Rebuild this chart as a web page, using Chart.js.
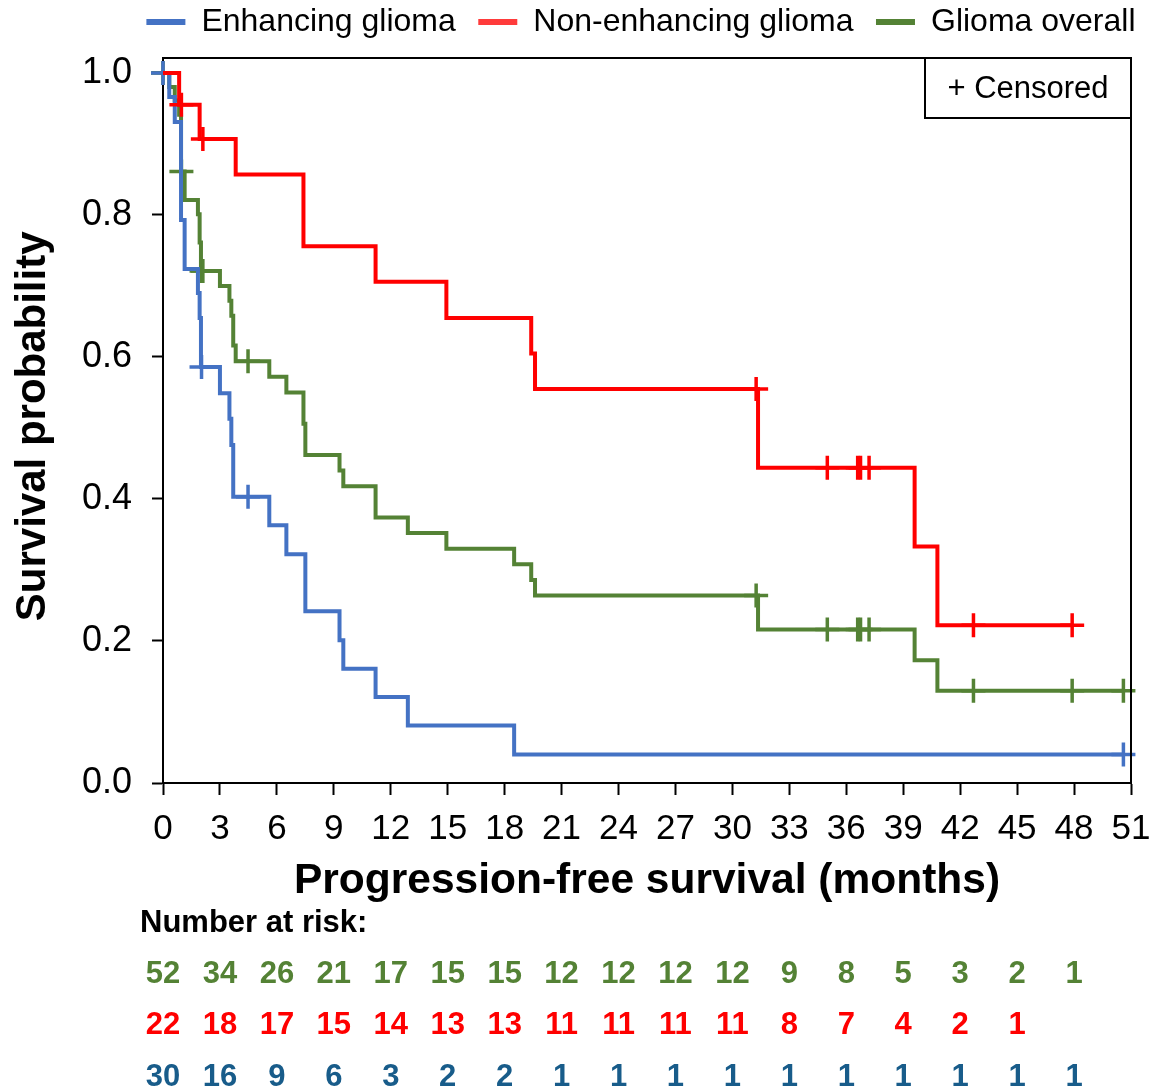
<!DOCTYPE html>
<html>
<head>
<meta charset="utf-8">
<title>Progression-free survival</title>
<script src="https://cdn.jsdelivr.net/npm/chart.js@4.4.1/dist/chart.umd.min.js"></script>
<style>
    body { margin: 0; background: #fff; }
    canvas { display: block; }
</style>
</head>
<body>
<canvas id="kmChart" width="1151" height="1087"></canvas>
<script>
/**
 * Kaplan-Meier curves: progression-free survival by glioma group
 */

// Enhancing glioma: event times (months) and survival after each step
const blueTimes = [0, 0.33, 0.62, 0.95, 1.14, 1.84, 1.93, 2.0, 3.0, 3.5, 3.6, 3.7, 5.6, 6.5, 7.5, 9.3, 9.5, 11.2, 12.9, 18.5, 50.6];
const blueSurv  = [1.0, 0.966, 0.931, 0.793, 0.724, 0.690, 0.655, 0.586, 0.549, 0.513, 0.476, 0.403, 0.363, 0.322, 0.242, 0.201, 0.161, 0.121, 0.081, 0.040, 0.040];
const blueCensored = [0, 2.03, 4.48, 50.6];

// Non-enhancing glioma
const redTimes = [0, 0.85, 1.93, 3.83, 7.4, 11.2, 14.93, 19.4, 19.6, 31.35, 39.6, 40.8, 47.9];
const redSurv  = [1.0, 0.955, 0.907, 0.857, 0.756, 0.706, 0.655, 0.605, 0.555, 0.444, 0.333, 0.222, 0.222];
const redCensored = [0.97, 2.1, 31.25, 35.0, 36.6, 36.75, 37.2, 42.7, 47.9];

// Glioma overall
const greenTimes = [0, 0.33, 0.62, 0.85, 0.95, 1.14, 1.84, 1.93, 2.0, 3.0, 3.5, 3.6, 3.7, 3.83, 5.6, 6.5, 7.4, 7.5, 9.3, 9.5, 11.2, 12.9, 14.93, 18.5, 19.4, 19.6, 31.35, 39.6, 40.8, 50.6];
const greenSurv  = [1.0, 0.980, 0.961, 0.941, 0.861, 0.821, 0.801, 0.761, 0.721, 0.700, 0.679, 0.658, 0.616, 0.594, 0.572, 0.550, 0.506, 0.462, 0.440, 0.418, 0.374, 0.352, 0.330, 0.308, 0.286, 0.264, 0.216, 0.173, 0.130, 0.130];
const greenCensored = [0, 0.97, 2.03, 2.1, 4.48, 31.25, 35.0, 36.6, 36.75, 37.2, 42.7, 47.9, 50.6];

// Number at risk table
const riskTimes = [0, 3, 6, 9, 12, 15, 18, 21, 24, 27, 30, 33, 36, 39, 42, 45, 48];
const riskGreen = [52, 34, 26, 21, 17, 15, 15, 12, 12, 12, 12, 9, 8, 5, 3, 2, 1];
const riskRed   = [22, 18, 17, 15, 14, 13, 13, 11, 11, 11, 11, 8, 7, 4, 2, 1, null];
const riskBlue  = [30, 16, 9, 6, 3, 2, 2, 1, 1, 1, 1, 1, 1, 1, 1, 1, 1];

const yTicks = [0, 0.2, 0.4, 0.6, 0.8, 1.0];

const FONT = "'Liberation Sans', Arial, sans-serif";
const COLORS = {
    blue: '#4472C4',
    red: '#FF0000',
    green: '#548235',
    legendRed: '#FF3B3B',
    riskBlue: '#185C8A'
};

/**
 * Survival value of a step curve at time t
 */
function survivalAt(times, surv, t) {
    let s = surv[0];
    for (let i = 0; i < times.length; i++) {
        if (times[i] <= t) s = surv[i];
    }
    return s;
}

function stepPoints(times, surv) {
    return times.map((t, i) => ({ x: t, y: surv[i] }));
}

function censorPoints(censored, times, surv) {
    return censored.map(t => ({ x: t, y: survivalAt(times, surv, t) }));
}

function curveDataset(label, times, surv, color, legendColor, order) {
    return {
        label: label,
        data: stepPoints(times, surv),
        borderColor: color,
        backgroundColor: legendColor,
        borderWidth: 4,
        stepped: 'before',
        pointRadius: 0,
        fill: false,
        clip: false,
        order: order
    };
}

function censorDataset(censored, times, surv, color, order) {
    return {
        label: 'censor',
        data: censorPoints(censored, times, surv),
        showLine: false,
        pointStyle: 'cross',
        pointRadius: 12,
        pointBorderWidth: 3.5,
        borderColor: color,
        backgroundColor: color,
        clip: false,
        order: order
    };
}

/**
 * Frame, "+ Censored" box and number-at-risk table
 */
const extrasPlugin = {
    id: 'kmExtras',
    afterDraw(chart) {
        const { ctx, chartArea, scales } = chart;
        ctx.save();

        // top and right frame lines
        ctx.strokeStyle = '#000';
        ctx.lineWidth = 2;
        ctx.beginPath();
        ctx.moveTo(chartArea.left, chartArea.top);
        ctx.lineTo(chartArea.right, chartArea.top);
        ctx.lineTo(chartArea.right, chartArea.bottom);
        ctx.stroke();

        // censored key box
        ctx.strokeRect(925, chartArea.top, chartArea.right - 925, 60);
        ctx.fillStyle = '#000';
        ctx.font = `31px ${FONT}`;
        ctx.textAlign = 'center';
        ctx.textBaseline = 'middle';
        ctx.fillText('+ Censored', (925 + chartArea.right) / 2, chartArea.top + 31);

        // number at risk
        ctx.textAlign = 'left';
        ctx.textBaseline = 'alphabetic';
        ctx.font = `bold 31px ${FONT}`;
        ctx.fillText('Number at risk:', 140, 932);

        const rows = [
            { values: riskGreen, color: COLORS.green, y: 983 },
            { values: riskRed, color: COLORS.red, y: 1034 },
            { values: riskBlue, color: COLORS.riskBlue, y: 1086 }
        ];
        ctx.textAlign = 'center';
        rows.forEach(row => {
            ctx.fillStyle = row.color;
            row.values.forEach((v, i) => {
                if (v === null) return;
                ctx.fillText(String(v), scales.x.getPixelForValue(riskTimes[i]), row.y);
            });
        });

        ctx.restore();
    }
};

const ctx = document.getElementById('kmChart');

new Chart(ctx, {
    type: 'line',
    data: {
        datasets: [
            curveDataset('Enhancing glioma', blueTimes, blueSurv, COLORS.blue, COLORS.blue, 2),
            curveDataset('Non-enhancing glioma', redTimes, redSurv, COLORS.red, COLORS.legendRed, 1),
            curveDataset('Glioma overall', greenTimes, greenSurv, COLORS.green, COLORS.green, 4),
            censorDataset(blueCensored, blueTimes, blueSurv, COLORS.blue, 2),
            censorDataset(redCensored, redTimes, redSurv, COLORS.red, 1),
            censorDataset(greenCensored, greenTimes, greenSurv, COLORS.green, 3)
        ]
    },
    options: {
        responsive: false,
        animation: false,
        devicePixelRatio: 1,
        layout: {
            padding: { top: -16.5, left: 0, right: -7, bottom: 180 }
        },
        plugins: {
            legend: {
                position: 'top',
                align: 'end',
                labels: {
                    filter: item => item.text !== 'censor',
                    boxWidth: 39,
                    boxHeight: 6,
                    padding: 22.5,
                    color: '#000',
                    font: { size: 32, family: FONT },
                    generateLabels: chart => chart.data.datasets
                        .map((ds, i) => ({
                            text: ds.label,
                            fillStyle: ds.backgroundColor,
                            strokeStyle: ds.backgroundColor,
                            lineWidth: 0,
                            datasetIndex: i,
                            hidden: false
                        }))
                }
            },
            // empty spacer between legend and plot frame
            title: {
                display: true,
                text: '',
                weight: 500,
                padding: 0,
                font: { size: 10, lineHeight: 1 }
            },
            tooltip: { enabled: false }
        },
        scales: {
            x: {
                type: 'linear',
                min: 0,
                max: 51,
                ticks: {
                    stepSize: 3,
                    autoSkip: false,
                    maxRotation: 0,
                    padding: 13,
                    color: '#000',
                    font: { size: 35, family: FONT }
                },
                grid: {
                    drawOnChartArea: false,
                    drawTicks: true,
                    tickLength: 12,
                    tickWidth: 2,
                    tickColor: '#000'
                },
                border: { color: '#000', width: 2 },
                title: {
                    display: true,
                    text: 'Progression-free survival (months)',
                    color: '#000',
                    font: { size: 42.5, weight: 'bold', family: FONT },
                    padding: { top: 0, bottom: 0 }
                },
                afterFit: scale => {
                    scale.height = 124;
                    scale.paddingRight = 20;
                    scale.paddingLeft = 0;
                }
            },
            y: {
                type: 'linear',
                min: 0,
                max: 1.021,
                afterBuildTicks: scale => {
                    scale.ticks = yTicks.map(v => ({ value: v }));
                },
                ticks: {
                    padding: 20,
                    color: '#000',
                    font: { size: 36, family: FONT },
                    callback: v => Number(v).toFixed(1)
                },
                grid: {
                    drawOnChartArea: false,
                    drawTicks: true,
                    tickLength: 11,
                    tickWidth: 2,
                    tickColor: '#000'
                },
                border: { color: '#000', width: 2 },
                title: {
                    display: true,
                    text: 'Survival probability ',
                    color: '#000',
                    font: { size: 42, weight: 'bold', family: FONT },
                    padding: { top: 8, bottom: 0 }
                },
                afterFit: scale => {
                    scale.width = 163;
                    scale.paddingTop = 0;
                    scale.paddingBottom = 0;
                }
            }
        }
    },
    plugins: [extrasPlugin]
});
</script>
</body>
</html>
